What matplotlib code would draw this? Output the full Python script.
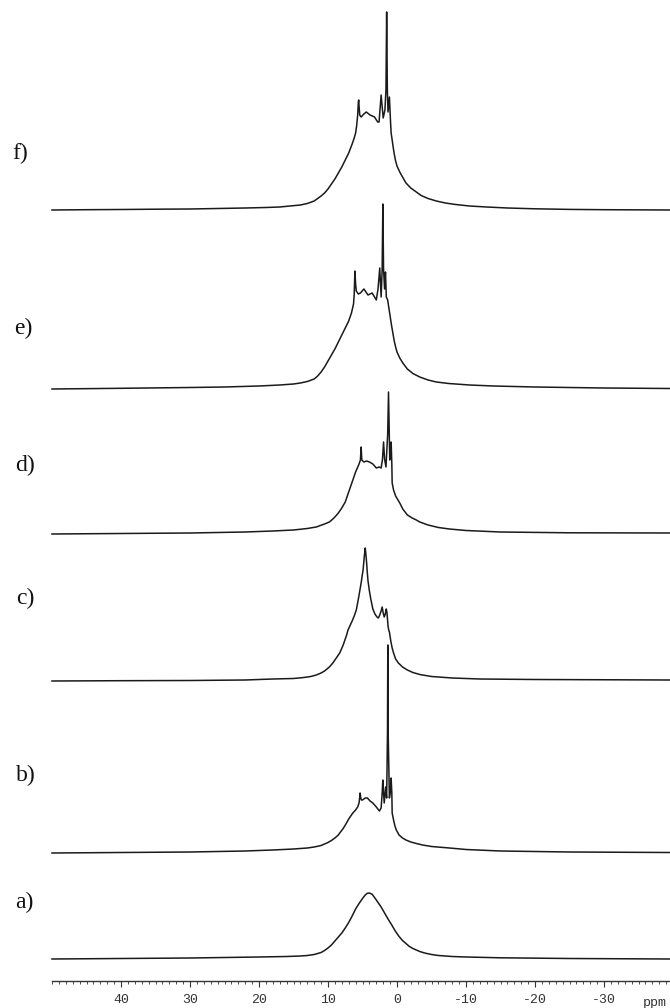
import numpy as np
import matplotlib
matplotlib.use('Agg')
import matplotlib.pyplot as plt
from matplotlib.ticker import MultipleLocator

# spectra: chemical shift (ppm) and height above each trace's baseline
ppm_a = [50, 40, 30, 20, 16, 14, 13, 12, 11, 10.5, 10, 9.5, 9.0, 8.5, 8.0, 7.5, 7.0, 6.5, 6.0, 5.5, 5.0, 4.6,
         4.3, 4.1, 3.9, 3.6, 3.2, 2.7, 2.3, 1.8, 1.3, 0.8, 0.3, -0.3, -0.8, -1.3, -1.8, -2.3, -2.8, -3.3, -4,
         -5, -6, -8, -10, -15, -25, -39.6]
int_a = [0, 0.5, 1, 2, 2.5, 3, 3.5, 4.5, 6.5, 8.5, 11, 14, 18, 22, 26, 31, 36.5, 43, 50, 55.5, 60.5, 64,
         65.7, 66, 65.7, 64.7, 61, 56, 52, 46, 40, 34.5, 28.5, 22.5, 18.5, 15.5, 12.5, 10.5, 9, 7.5, 6,
         4.5, 3.5, 2.5, 2, 1.2, 0.5, 0]

ppm_b = [50, 40, 30, 22, 18, 15, 13, 12, 11, 10.5, 10, 9.5, 9.0, 8.5, 8.3, 7.8, 7.4, 7.0, 6.7, 6.4, 6.0, 5.7,
         5.5, 5.4, 5.35, 5.25, 5.15, 5.0, 4.6, 4.3, 3.9, 3.5, 3.0, 2.55, 2.3, 2.15, 2.05, 1.95,
         1.85, 1.65, 1.5, 1.38, 1.33, 1.28, 1.1, 0.95, 0.85, 0.75, 0.7, 0.5, 0.3, 0.1, -0.3, -0.8, -1.3, -2,
         -2.8, -3.7, -5, -7.6, -10, -15, -25, -39.6]
int_b = [0, 0.5, 1, 2, 3, 4, 5, 6, 7.5, 9, 10.5, 12.5, 15, 18, 20, 24.5, 29, 34, 37, 40, 43, 46,
         50, 56, 60, 55, 53, 53, 55, 55, 52, 50, 46, 42, 45, 60, 73, 60,
         50, 66, 55, 120, 208, 120, 55, 62, 75, 60, 40, 33, 27, 23, 18, 15, 13, 11,
         9.5, 8, 6.5, 5, 3.5, 2, 1, 0.5]

ppm_c = [50, 40, 30, 22, 18, 15, 13.5, 12.5, 11.7, 11, 10.5, 9.8, 9.3, 8.8, 8.3, 7.8, 7.5, 7.3, 7.1, 6.9, 6.5,
         6.2, 5.9, 5.6, 5.4, 5.2, 5.05, 4.9, 4.75, 4.6, 4.5, 4.4, 4.3, 4.2, 4.0, 3.8, 3.5, 3.2, 2.9, 2.7,
         2.5, 2.3, 2.15, 2.0, 1.85, 1.7, 1.55, 1.45, 1.3, 1.2, 1.1, 0.9, 0.7, 0.5, 0.2, -0.2, -0.8, -1.5,
         -2.3, -3.3, -5, -8, -12, -20, -39.6]
int_c = [0, 0.3, 0.5, 1, 2, 2.5, 3.5, 4.5, 6, 8, 10, 14, 18, 23, 28, 36, 42, 46, 51, 54, 60,
         65, 71, 82, 90, 98, 105, 112, 124, 133, 126, 118, 108, 100, 90, 82, 72, 67, 64, 63,
         66, 70, 74, 68, 64, 67, 72, 68, 55, 51, 49, 40, 33, 28, 22, 18, 14, 11,
         8.5, 6.5, 4.5, 3, 2, 1.5, 1]

ppm_d = [50, 40, 30, 22, 18, 15, 13, 11.7, 10.5, 9.8, 9.3, 9.0, 8.5, 8.0, 7.5, 7.0, 6.5, 6.0, 5.5, 5.3,
         5.2, 5.1, 4.8, 4.4, 4.0, 3.5, 3.0, 2.6, 2.3, 2.1, 1.95, 1.8, 1.6, 1.35, 1.23, 1.12, 1.05, 0.95,
         0.85, 0.75, 0.7, 0.5, 0.2, -0.4, -0.84, -1.5, -2.2, -2.8, -3.3, -4.5, -6, -7.6, -10, -15, -25, -39.6]
int_d = [0, 0.5, 1, 2, 3, 4, 5.5, 7, 10, 12, 15, 17, 21, 26, 32, 42, 52, 62, 70, 74,
         87, 74, 72, 73, 72, 70, 66, 67, 66, 75, 92, 75, 67, 100, 142, 100, 74, 80,
         92, 70, 51, 44, 38, 31, 25, 19, 16, 14, 12, 9, 6.5, 5, 3.5, 2, 1.2, 1]

ppm_e = [50, 40, 30, 25, 20, 17, 15, 14, 13, 12, 11.5, 11, 10.5, 10, 9.5, 9, 8.5, 8, 7.5, 7, 6.6, 6.3,
         6.2, 6.1, 6.0, 5.9, 5.6, 5.3, 4.8, 4.5, 4.2, 3.6, 3.0, 2.75, 2.5, 2.3, 2.15, 2.05, 1.95, 1.8,
         1.67, 1.55, 1.35, 1.2, 1.0, 0.8, 0.6, 0.4, 0.2, 0, -0.4, -0.84, -1.5, -2.3, -3.3, -4.5, -5.7,
         -7.5, -10.5, -14, -20, -30, -39.6]
int_e = [0, 0.7, 1.5, 2, 3, 4, 5, 6, 7.5, 10, 13, 17, 22, 28, 34, 40, 47, 54, 61, 68, 76, 85,
         95, 118, 105, 98, 95, 96, 100, 97, 94, 96, 89, 100, 121, 92, 120, 185, 120, 100,
         117, 92, 89, 82, 73, 64, 56, 48, 42, 37, 31, 26, 20, 15.5, 12, 9, 7,
         5.5, 4, 3, 2, 1, 0.5]

ppm_f = [50, 45, 40, 35, 30, 26, 22, 19, 17, 15.5, 14, 13, 12, 11.5, 11, 10.5, 10, 9.5, 9, 8.5, 8, 7.5, 7,
         6.5, 6.2, 6.0, 5.85, 5.7, 5.6, 5.55, 5.5, 5.4, 5.2, 4.8, 4.45, 3.9, 3.26, 2.8, 2.6, 2.3, 2.0,
         1.75, 1.6, 1.5, 1.4, 1.3, 1.1, 0.95, 0.85, 0.7, 0.6, 0.4, 0.2, 0, -0.4, -0.8, -1.3, -2, -2.8,
         -3.5, -4.5, -5.7, -7, -8.5, -10.5, -13, -16, -20, -25, -30, -39.6]
int_f = [0, 0.3, 0.5, 0.8, 1, 1.5, 2, 2.5, 3, 4, 5, 6.5, 9, 11.5, 14, 17, 21, 26, 31, 37, 43, 50, 57,
         66, 72, 77, 84, 95, 108, 110, 104, 95, 93, 96, 98, 95, 93, 88, 88, 115, 92,
         100, 120, 198, 120, 98, 113, 90, 77, 70, 65, 56, 49, 44, 38, 33, 27, 22, 18,
         14.5, 11.5, 9, 7, 5.5, 4, 3, 2, 1.2, 0.6, 0.3, 0]

labels = ['a)', 'b)', 'c)', 'd)', 'e)', 'f)']

# figure layout, in pixels of the 670 x 1008 output
W, H = 670, 1008
AXIS_Y = 981
baselines_px = [959, 853, 681, 534, 389, 210]
label_px = [(24, 902), (26, 775), (25, 598), (25, 465), (23, 328), (20, 153)]

plt.rcParams['axes.unicode_minus'] = False

fig = plt.figure(figsize=(W / 100, H / 100), dpi=100)
ax = fig.add_axes([52 / W, (H - AXIS_Y) / H, 1 - 52 / W, AXIS_Y / H])

traces = [(ppm_a, int_a), (ppm_b, int_b), (ppm_c, int_c),
          (ppm_d, int_d), (ppm_e, int_e), (ppm_f, int_f)]

for (ppm, inten), base in zip(traces, baselines_px):
    offset = AXIS_Y - base
    ax.plot(ppm, np.asarray(inten) + offset, color='#1a1a1a', lw=1.1,
            solid_joinstyle='round', clip_on=False)

ax.set_xlim(50, 50 - (W - 52) / 6.9)
ax.set_ylim(0, AXIS_Y)

for s in ['top', 'left', 'right']:
    ax.spines[s].set_visible(False)
ax.spines['bottom'].set_linewidth(1.0)
ax.spines['bottom'].set_color('#333333')
ax.set_yticks([])
ax.set_xticks([40, 30, 20, 10, 0, -10, -20, -30])
ax.xaxis.set_minor_locator(MultipleLocator(1))
ax.tick_params(axis='x', which='major', direction='out', length=4.5, width=0.8,
               pad=5, labelsize=9.5, colors='#333333')
ax.tick_params(axis='x', which='minor', direction='out', length=2.2, width=0.6, colors='#333333')
for t in ax.get_xticklabels():
    t.set_fontfamily('Liberation Mono')

fig.text(655 / W, 1 - 1003 / H, 'ppm', ha='center', va='center',
         fontsize=9.5, family='Liberation Mono', color='#333333')

for lab, (x, y) in zip(labels, label_px):
    fig.text(x / W, 1 - y / H, lab, ha='center', va='center',
             fontsize=17, family='Liberation Serif', color='#111111')

fig.savefig('out.png', dpi=100)
